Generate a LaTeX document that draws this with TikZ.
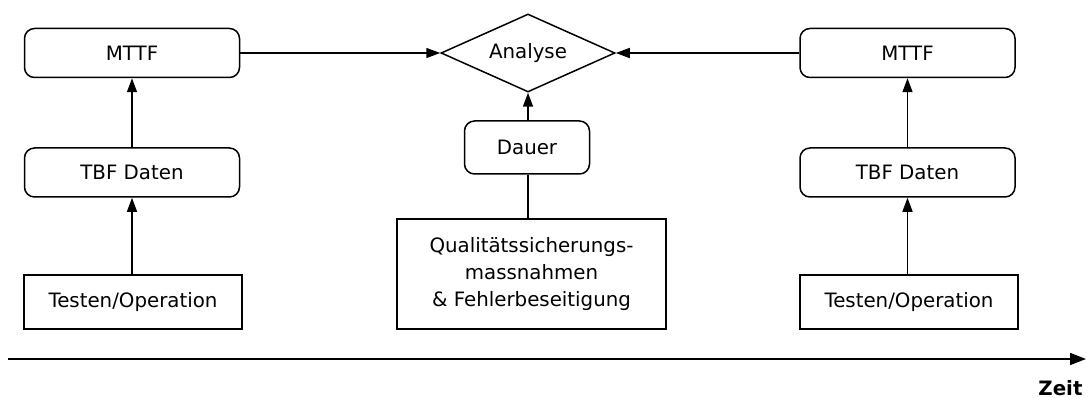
\documentclass[tikz,border=0pt]{standalone}
\usepackage{fontspec}
\setmainfont{DejaVu Sans}
\usetikzlibrary{shapes.geometric,arrows.meta}
\begin{document}
\begin{tikzpicture}[x=1pt,y=-1pt,
  every node/.style={font=\fontsize{19.8}{27}\selectfont, text=black},
  rbox/.style={draw, line width=1.5pt, rounded corners=10pt, minimum width=215pt, minimum height=49pt, inner sep=0pt},
  sbox/.style={draw, line width=1.5pt, minimum width=218pt, minimum height=54pt, inner sep=0pt},
  conn/.style={line width=1.5pt},
  arr/.style={conn, -{Triangle[length=14pt,width=10pt]}}]
\useasboundingbox (0,0) rectangle (1089,398);
% left column
\node[rbox] (m1) at (132,53) {MTTF};
\node[rbox] (t1) at (132,172.5) {TBF Daten};
\node[sbox] (o1) at (133,302) {Testen/Operation};
% right column
\node[rbox] (m2) at (907.5,53) {MTTF};
\node[rbox] (t2) at (907.5,172.5) {TBF Daten};
\node[sbox] (o2) at (909,302) {Testen/Operation};
% center
\node[draw, diamond, line width=1.5pt, inner sep=0pt, aspect=2.26, minimum width=174pt, minimum height=78pt] (an) at (528,53) {Analyse};
\node[rbox, minimum width=125pt, minimum height=53pt] (da) at (527,147.5) {Dauer};
\node[draw, line width=1.5pt, minimum width=269pt, minimum height=110pt, inner sep=0pt, align=center] (qs) at (531.5,274) {Qualitätssicherungs-\\massnahmen\\\& Fehlerbeseitigung};
% connectors
\draw[arr] (o1.north -| t1.south) -- (t1.south);
\draw[arr] (t1.north) -- (m1.south);
\draw[arr] (o2.north -| t2.south) -- (t2.south);
\draw[arr] (t2.north) -- (m2.south);
\draw[arr] (m1.east) -- (an.west);
\draw[arr] (m2.west) -- (an.east);
\draw[arr] (da.north -| an.south) -- (an.south);
\draw[conn] (qs.north -| an.south) -- (da.south -| an.south);
% time axis
\coordinate (ax0) at (8,359);
\coordinate (ax1) at (1086,359);
\draw[conn, -{Triangle[length=16pt,width=12pt]}] (ax0) -- (ax1);
\node[font=\fontsize{19.8}{27}\selectfont\bfseries, anchor=east] (zeit) at (1086,388) {Zeit};
\end{tikzpicture}
\end{document}
